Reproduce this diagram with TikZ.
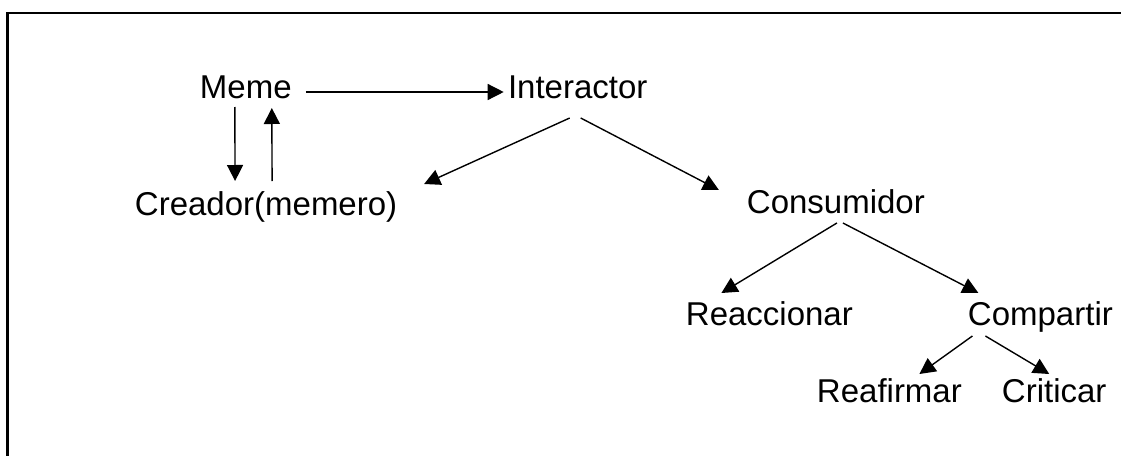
\documentclass[tikz,border=0pt]{standalone}
\usepackage{fontspec}
\setmainfont{Liberation Sans}
\usetikzlibrary{arrows.meta}
\begin{document}
\begin{tikzpicture}[x=1pt,y=-1pt,
  lbl/.style={inner sep=0pt, anchor=base, font=\fontsize{33}{40}\selectfont},
  arr/.style={line width=1.4pt, -{Triangle[length=16pt,width=16pt]}}]
\useasboundingbox (0,0) rectangle (1121,455);
\draw [line width=2.6pt] (7.5,460) -- (7.5,12.8) -- (1130,12.8);

\node[lbl] (meme) at (245.8,98) {Meme};
\node[lbl] (inter) at (577.7,98) {Interactor};
\node[lbl] (creador) at (266.1,215) {Creador(memero)};
\node[lbl] (consum) at (835.9,213) {Consumidor};
\node[lbl] (reacc) at (769.4,325) {Reaccionar};
\node[lbl] (compart) at (1040.4,325) {Compartir};
\node[lbl] (reaf) at (889.4,402) {Reafirmar};
\node[lbl] (crit) at (1054.2,402) {Criticar};

\draw [arr] ([shift={(60,-6)}]meme.base) -- ([shift={(-74,-6)}]inter.base);
\draw [arr] ([shift={(-11,9)}]meme.base) -- ([shift={(-31,-34)}]creador.base);
\draw [arr] ([shift={(6,-34)}]creador.base) -- ([shift={(26,10)}]meme.base);

\draw [arr] ([shift={(-8,20)}]inter.base) -- ([shift={(158,-31)}]creador.base);
\draw [arr] ([shift={(3,20)}]inter.base) -- ([shift={(-117,-23)}]consum.base);

\draw [arr] ([shift={(1,10)}]consum.base) -- ([shift={(-48,-32)}]reacc.base);
\draw [arr] ([shift={(7,10)}]consum.base) -- ([shift={(-62,-32)}]compart.base);

\draw [arr] ([shift={(-68,11)}]compart.base) -- ([shift={(30,-28)}]reaf.base);
\draw [arr] ([shift={(-55,11)}]compart.base) -- ([shift={(-5,-28)}]crit.base);

\end{tikzpicture}
\end{document}
